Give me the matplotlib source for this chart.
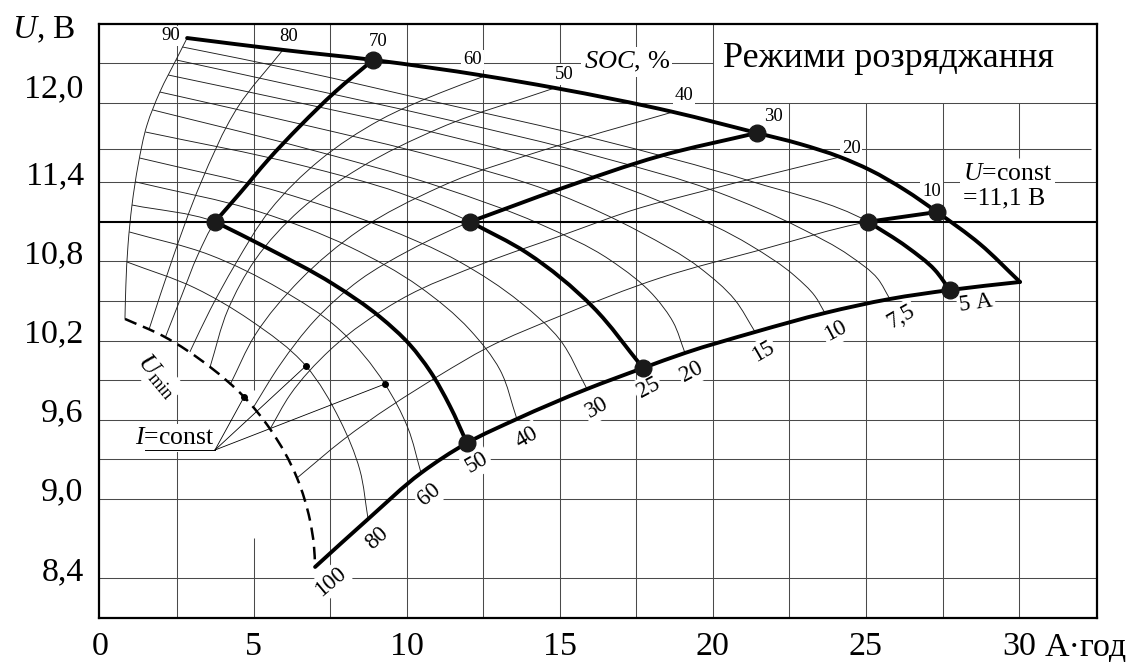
import numpy as np
import matplotlib
matplotlib.use('Agg')
import matplotlib.pyplot as plt
from matplotlib.path import Path
from matplotlib.patches import PathPatch
from matplotlib.transforms import ScaledTranslation

plt.rcParams['font.family'] = ['Liberation Serif', 'DejaVu Serif']
plt.rcParams['mathtext.fontset'] = 'custom'
plt.rcParams['mathtext.rm'] = 'Liberation Serif'
plt.rcParams['mathtext.it'] = 'Liberation Serif:italic'

# осі: ємність, А·год та напруга, В
x_ticks = [0, 5, 10, 15, 20, 25, 30]
x_tick_labels = ['0', '5', '10', '15', '20', '25', '30']
u_ticks = [12.0, 11.4, 10.8, 10.2, 9.6, 9.0, 8.4]
u_tick_labels = ['12,0', '11,4', '10,8', '10,2', '9,6', '9,0', '8,4']
x_grid = [2.5, 5, 7.5, 10, 12.5, 15, 17.5, 20, 22.5, 25, 27.5, 30]
u_grid = [12.3, 12.0, 11.65, 11.4, 10.8, 10.5, 10.2, 9.9, 9.6, 9.3, 9.0, 8.4]
u_const = 11.1

# верхня межа (початок розряду), точки (А·год, В)
top_curve = [(2.83, 12.492), (5.96, 12.402), (8.90, 12.326), (12.56, 12.205),
             (14.84, 12.114), (18.70, 11.932), (21.44, 11.773),
             (22.85, 11.689), (24.15, 11.591), (25.13, 11.492), (26.27, 11.341),
             (27.32, 11.174), (28.72, 10.932), (30.03, 10.644)]

# лінії SOC = const
soc90 = [(2.83, 12.492), (2.50, 12.341), (1.94, 12.083), (1.52, 11.833), (1.23, 11.530),
         (1.03, 11.227), (0.90, 10.924), (0.83, 10.621), (0.80, 10.364)]
soc80 = [(5.96, 12.402), (4.49, 11.970), (3.25, 11.379), (2.34, 10.811), (1.58, 10.280)]
soc70 = [(8.90, 12.326), (7.66, 12.083), (6.52, 11.826), (5.47, 11.568), (4.56, 11.318),
         (3.74, 11.100), (3.18, 10.848), (2.66, 10.545), (2.11, 10.220)]
soc60 = [(12.56, 12.205), (11.09, 12.076), (9.13, 11.871), (7.17, 11.568), (5.54, 11.189),
         (4.39, 10.773), (3.58, 10.432), (2.92, 10.114)]
soc50 = [(14.84, 12.114), (11.09, 11.811), (8.47, 11.508), (6.52, 11.189), (5.05, 10.811),
         (4.16, 10.432), (3.58, 10.000)]
soc40 = [(18.70, 11.932), (15.01, 11.682), (11.09, 11.364), (8.47, 11.038), (6.52, 10.659),
         (5.05, 10.242), (4.23, 9.864)]
soc30 = [(21.44, 11.773), (18.27, 11.598), (15.10, 11.356), (12.07, 11.100), (10.11, 10.886),
         (8.47, 10.659), (7.01, 10.356), (5.86, 10.015), (4.98, 9.689)]
soc20 = [(24.15, 11.591), (19.58, 11.326), (17.62, 11.205), (15.01, 10.992), (12.62, 10.795),
         (9.78, 10.508), (7.50, 10.129), (6.19, 9.788), (5.54, 9.530)]
soc10 = [(27.32, 11.174), (25.07, 11.100), (21.54, 10.886), (18.27, 10.674), (15.01, 10.386),
         (12.62, 10.144), (11.09, 9.939), (7.92, 9.447), (6.42, 9.159)]
soc_labels = ['90', '80', '70', '60', '50', '40', '30', '20', '10']

# розрядні криві I = const, кінець кривої - на нижній межі
i5 = [(2.68, 12.424), (6.52, 12.242), (11.09, 12.000), (16.31, 11.720), (21.21, 11.409),
      (25.07, 11.100), (26.34, 10.909), (27.25, 10.735), (27.74, 10.583)]
i7_5 = [(2.47, 12.326), (6.52, 12.121), (11.09, 11.886), (16.31, 11.591), (20.23, 11.318),
        (22.85, 11.053), (24.48, 10.841), (25.39, 10.667), (25.78, 10.515)]
i10 = [(2.21, 12.212), (6.52, 12.000), (11.09, 11.765), (15.66, 11.477), (18.93, 11.189),
       (21.21, 10.924), (22.68, 10.689), (23.33, 10.538), (23.66, 10.409)]
i15 = [(1.94, 12.083), (6.52, 11.841), (11.09, 11.583), (15.01, 11.303), (17.62, 11.023),
       (19.58, 10.750), (20.72, 10.508), (21.38, 10.265)]
i20 = [(1.71, 11.947), (6.52, 11.667), (11.09, 11.364), (14.35, 11.083), (16.64, 10.811),
       (18.11, 10.530), (18.70, 10.341), (19.09, 10.106)]
i25 = [(1.47, 11.780), (6.52, 11.530), (9.78, 11.318), (12.07, 11.100), (13.93, 10.864),
       (16.08, 10.455), (17.72, 9.992)]
i30 = [(1.28, 11.583), (5.86, 11.326), (9.13, 11.068), (11.74, 10.795), (13.70, 10.492),
       (15.01, 10.205), (15.89, 9.833)]
i40 = [(1.15, 11.402), (5.21, 11.174), (8.15, 10.909), (10.43, 10.606), (12.07, 10.280),
       (13.05, 9.977), (13.60, 9.606)]
i50 = [(1.03, 11.227), (3.74, 11.100), (5.44, 10.902), (7.59, 10.629), (9.13, 10.379),
       (10.11, 10.167), (10.76, 9.970), (11.41, 9.705), (11.97, 9.424)]
i60 = [(0.94, 11.023), (3.58, 10.848), (5.86, 10.591), (7.82, 10.280), (9.29, 9.871),
       (10.04, 9.538), (10.47, 9.197)]
i80 = [(0.87, 10.795), (3.09, 10.598), (4.88, 10.356), (6.71, 10.008), (7.82, 9.598),
       (8.47, 9.220), (8.74, 8.848)]
i100 = [(0.80, 10.364), (2.04, 10.235), (3.58, 10.000), (4.69, 9.773), (5.54, 9.530),
        (6.42, 9.159), (6.84, 8.841), (6.97, 8.652), (7.01, 8.485)]
current_labels = ['100', '80', '60', '50', '40', '30', '25', '20', '15', '10', '7,5', '5 А']

soc_lines = [soc90, soc80, soc70, soc60, soc50, soc40, soc30, soc20, soc10]
i_curves = [i100, i80, i60, i50, i40, i30, i25, i20, i15, i10, i7_5, i5]
bottom_curve = [c[-1] for c in i_curves] + [top_curve[-1]]

# режими розряду: ділянка по SOC до U=const, далі по I=const
modes = [(soc70[:6], i50[1:]), (soc30[:4], i25[3:]), (soc10[:2], i5[5:])]
iconst_anchor = (3.74, 9.371)
iconst_targets = [i100[3], i80[3], i60[4]]

# зсуви підписів (пт) та кути
soc_offsets = [(-12, 1.5), (4, 10), (4, 13.5), (-9, 11.5), (7, 9.5), (8, 11.5),
               (12, 11.5), (8, 6), (-4, 14.5)]
cur_offsets = [(10.8, -10.8), (6.5, -13.7), (5.8, -15.8), (7.2, -14.4), (7.2, -13),
               (7.2, -13.7), (3.6, -14.4), (5, -13.7), (5.8, -14.4), (7.9, -13),
               (7.9, -13), (7, -11.5)]
cur_angles = [40, 42, 40, 30, 30, 30, 28, 28, 30, 28, 30, 8]


def curve(ax, pts, **kw):
    # гладка крива через точки: дотичні за довжиною хорди на екрані
    p = np.asarray(pts, float)
    d = ax.transData.transform(p)
    t = np.concatenate([[0.0], np.cumsum(np.hypot(*np.diff(d, axis=0).T))])
    if len(p) > 2:
        m = np.gradient(p, t, axis=0)
    else:
        m = np.repeat([(p[1] - p[0]) / t[1]], 2, axis=0)
    verts = [p[0]]
    codes = [Path.MOVETO]
    for k in range(len(p) - 1):
        h = t[k + 1] - t[k]
        verts += [p[k] + m[k] * h / 3, p[k + 1] - m[k + 1] * h / 3, p[k + 1]]
        codes += [Path.CURVE4] * 3
    ax.add_patch(PathPatch(Path(verts, codes), fill=False, **kw))


fig = plt.figure(figsize=(11.45, 6.62), dpi=100, facecolor='w')
ax = fig.add_axes([0.0864, 0.0668, 0.8718, 0.8973])
ax.set_xlim(-0.05, 32.55)
ax.set_ylim(8.1, 12.6)

# сітка
gcol, glw = '#4a4a4a', 0.75
for x in x_grid:
    if x == 5:
        spans = [(8.1, 8.705), (9.826, 12.6)]
    elif x == 30:
        spans = [(8.1, 10.8), (11.58, 12.0)]
    elif x > 20:
        spans = [(8.1, 12.0)]
    else:
        spans = [(8.1, 12.6)]
    for lo, hi in spans:
        ax.vlines(x, lo, hi, colors=gcol, lw=glw, zorder=1)
for u in u_grid:
    hi = 20 if u > 12.1 else (32.35 if u == 11.65 else 32.55)
    ax.hlines(u, -0.05, hi, colors=gcol, lw=glw, zorder=1)
ax.axhline(u_const, color='k', lw=1.5, zorder=3)

# сітка номограми
thin = dict(ec='#1e1e1e', lw=0.65, zorder=2)
for line in soc_lines:
    curve(ax, line, **thin)
for c in i_curves[1:]:
    curve(ax, c, **thin)
curve(ax, i100, ec='k', lw=1.8, linestyle=(0, (5, 2.8)), zorder=4)

# межі області
bold = dict(ec='k', lw=2.8, zorder=4.5, capstyle='round', joinstyle='round')
curve(ax, top_curve, **bold)
curve(ax, bottom_curve, **bold)
for seg_a, seg_b in modes:
    curve(ax, seg_a, **bold)
    curve(ax, seg_b, **bold)
    for pt in (seg_a[0], seg_a[-1], seg_b[-1]):
        ax.plot(*pt, 'o', color='#1a1a1a', ms=12, zorder=5)

# вказівник I = const
ax.plot([1.45, iconst_anchor[0]], [iconst_anchor[1]] * 2, color='k', lw=0.7, zorder=7)
for tx, tu in iconst_targets:
    ax.plot([iconst_anchor[0], tx], [iconst_anchor[1], tu], color='k', lw=0.6, zorder=7)
    ax.plot(tx, tu, 'o', color='k', ms=4, zorder=7)

box = dict(boxstyle='square,pad=0.1', fc='white', ec='none')
for line, lab, off in zip(soc_lines, soc_labels, soc_offsets):
    ax.annotate(lab, xy=line[0], xytext=off, textcoords='offset points',
                ha='center', va='center', fontsize=13.5, bbox=box, zorder=3.5)
for c, lab, off, ang in zip(i_curves, current_labels, cur_offsets, cur_angles):
    ax.annotate(lab, xy=c[-1], xytext=off, textcoords='offset points',
                ha='left' if lab.endswith('А') else 'center', va='center',
                rotation=ang, rotation_mode='anchor', fontsize=16.5, bbox=box, zorder=3.5)

ax.text(17.19, 12.311, '$SOC$, %', fontsize=19, ha='center', va='center', bbox=box, zorder=3.5)
ax.text(20.33, 12.273, 'Режими розряджання', fontsize=26, ha='left', va='baseline', zorder=6)
ax.text(28.17, 11.462, '$U$=const', fontsize=18.5, ha='left', va='center', bbox=box, zorder=3.5)
ax.text(28.17, 11.273, '=11,1 В', fontsize=18.5, ha='left', va='center', bbox=box, zorder=3.5)
ax.text(1.13, 9.417, '$I$=const', fontsize=18.5, ha='left', va='baseline', bbox=box, zorder=3.5)
ax.text(1.85, 9.93, r'$U_{\rm min}$', fontsize=19, ha='center', va='center',
        rotation=-50, rotation_mode='anchor', bbox=box, zorder=3.5)

ax.set_xticks(x_ticks, x_tick_labels)
ax.set_yticks(u_ticks, u_tick_labels)
ax.tick_params(length=0, labelsize=24.5)
ax.tick_params(axis='x', pad=10)
ax.tick_params(axis='y', pad=11)
for k, lab in enumerate(ax.get_yticklabels()):
    lift = 0.17 if k == 0 else 0.1
    lab.set_transform(lab.get_transform() + ScaledTranslation(0, lift, fig.dpi_scale_trans))
ax.text(30.85, 7.818, 'А·год', fontsize=24.5, ha='left', va='baseline', clip_on=False)
fig.text(12 / 1145, 1 - 38 / 662, '$U$, В', fontsize=24, va='baseline')

for s in ax.spines.values():
    s.set_linewidth(1.6)

fig.savefig('out.png', dpi=100)
